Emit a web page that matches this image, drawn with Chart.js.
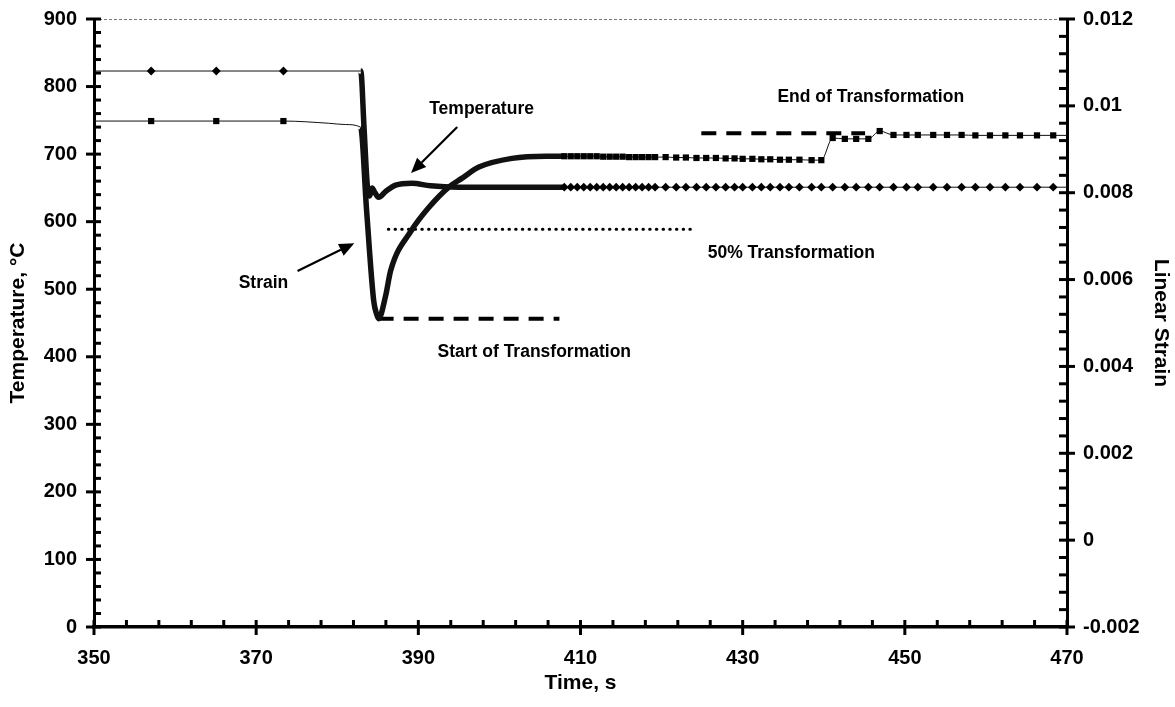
<!DOCTYPE html>
<html>
<head>
<meta charset="utf-8">
<title>Temperature and strain vs time</title>
<script src="https://cdn.jsdelivr.net/npm/chart.js@4.4.0/dist/chart.umd.min.js"></script>
<style>
  html, body { margin: 0; padding: 0; background: #fff; }
  #wrap { width: 1175px; height: 707px; }
</style>
</head>
<body>
<div id="wrap"><canvas id="chart" width="1175" height="707"></canvas></div>
<script>
// ---- data ----
const timeTicks = [350, 370, 390, 410, 430, 450, 470];
const tempTicks = [0, 100, 200, 300, 400, 500, 600, 700, 800, 900];
const strainTicks = [-0.002, 0, 0.002, 0.004, 0.006, 0.008, 0.01, 0.012];

// tail sampling shared by both recorded series (s)
const tailTime = [408.0, 408.8, 409.6, 410.4, 411.2, 412.0, 412.8, 413.6, 414.4, 415.2, 416.0, 416.8,
  417.6, 418.4, 419.2, 420.5, 421.8, 423.0, 424.3, 425.5, 426.7, 427.9, 429.0, 430.0, 431.2, 432.3,
  433.4, 434.6, 435.7, 437.0, 438.5, 439.7, 441.1, 442.6, 444.0, 445.5, 446.9, 448.6, 450.2, 451.6,
  453.5, 455.2, 457.0, 458.7, 460.5, 462.4, 464.2, 466.3, 468.3, 470];

const tempTime = [350, 357.05, 365.08, 373.36, 382.9, 383.3, 383.7, 384.0, 384.3, 384.6, 385.1,
  386.0, 387.2, 389.2, 391.5, 395, 400, 404].concat(tailTime);
const tempValues = [823, 823, 823, 823, 823, 740, 655, 638, 650, 644, 636,
  645, 654, 657, 653, 651, 651, 651,
  651, 651, 651, 651, 651, 651, 651, 651, 651, 651, 651, 651, 651, 651, 651,
  651, 651, 651, 651, 651, 651, 651, 651, 651, 651, 651, 651, 651, 651, 651,
  651, 651, 651, 651, 651, 651, 651, 651, 651, 651, 651, 651, 651, 651, 651,
  651, 651, 651, 651, 651];

const strainTime = [350, 357.05, 365.08, 373.36, 378.9, 381.0, 382.88, 383.62, 384.49, 384.86,
  385.10, 385.97, 386.59, 389.18, 391.29, 393.76, 395.36, 397.47, 401.55, 405.75].concat(tailTime);
const strainValues = [0.00965, 0.00965, 0.00965, 0.00965, 0.0096, 0.00957, 0.00951, 0.00759, 0.00552, 0.0052,
  0.0051, 0.00563, 0.00621, 0.00714, 0.00766, 0.00813, 0.00833, 0.00859, 0.00879, 0.00884,
  0.00884, 0.00884, 0.00884, 0.00884, 0.00884, 0.00884, 0.00883, 0.00883, 0.00883, 0.00883, 0.00882,
  0.00882, 0.00882, 0.00882, 0.00882, 0.00882, 0.00881, 0.00881, 0.0088, 0.0088, 0.0088, 0.00879,
  0.00879, 0.00878, 0.00878, 0.00877, 0.00877, 0.00876, 0.00876, 0.00876, 0.00875, 0.00875,
  0.00926, 0.00924, 0.00924, 0.00924, 0.00942, 0.00933, 0.00933, 0.00933, 0.00933, 0.00933,
  0.00933, 0.00932, 0.00932, 0.00932, 0.00932, 0.00932, 0.00932, 0.00932];

// transformation levels (strain) and the time span of each marker line
const startTime = [385.1, 407.4], startStrain = [0.0051, 0.0051];
const halfTime = [386.3, 423.7], halfStrain = [0.00716, 0.00716];
const endTime = [424.9, 445.1], endStrain = [0.00937, 0.00937];

// text notes, placed in data units (time, temperature)
const notes = [
  { text: 'Temperature', t: 397.8, v: 767 },
  { text: 'Strain', t: 370.9, v: 509 },
  { text: 'End of Transformation', t: 445.8, v: 784 },
  { text: '50% Transformation', t: 436.0, v: 554 },
  { text: 'Start of Transformation', t: 404.3, v: 407 }
];
const arrows = [
  { from: [394.8, 740], to: [389.1, 672] },
  { from: [375.1, 527], to: [382.1, 568] }
];

const FONT = '"Liberation Sans", Arial, sans-serif';

function pairs(xs, ys) {
  return xs.map((x, i) => ({ x, y: ys[i] }));
}

// markers only where the recording is sparse enough to show them
function markerRadius(ctx) {
  const x = ctx.raw && ctx.raw.x;
  if (x === undefined) return 0;
  if ((x > 350 && x < 375) || (x >= 407.9 && x < 469.9)) return 4.4;
  return 0;
}
function segWidth(ctx) {
  return ctx.p0.parsed.x >= 382.85 && ctx.p1.parsed.x <= 408.05 ? 5.5 : 1;
}

const axisTicks = {
  id: 'axisTicks',
  afterDraw(chart) {
    const { ctx, chartArea: a, scales } = chart;
    ctx.save();

    // faint frame line on top
    ctx.lineWidth = 1;
    ctx.setLineDash([3, 2]);
    ctx.strokeStyle = '#777';
    ctx.beginPath();
    ctx.moveTo(a.left, a.top + 0.5);
    ctx.lineTo(a.right, a.top + 0.5);
    ctx.stroke();
    ctx.setLineDash([]);
    ctx.strokeStyle = '#000';

    const drawSet = (ticks, scale, fn) => {
      for (let i = 0; i < ticks.length; i++) {
        fn(scale.getPixelForValue(ticks[i]), true);
        if (i < ticks.length - 1) {
          const step = (ticks[i + 1] - ticks[i]) / 5;
          for (let k = 1; k < 5; k++) fn(scale.getPixelForValue(ticks[i] + step * k), false);
        }
      }
    };

    drawSet(timeTicks, scales.x, (p, major) => {
      ctx.lineWidth = 3;
      ctx.beginPath();
      ctx.moveTo(p, a.bottom + (major ? 8 : 0));
      ctx.lineTo(p, a.bottom - 7);
      ctx.stroke();
    });
    drawSet(tempTicks, scales.y, (p, major) => {
      ctx.lineWidth = 3;
      ctx.beginPath();
      ctx.moveTo(a.left - (major ? 8 : 0), p);
      ctx.lineTo(a.left + 7, p);
      ctx.stroke();
    });
    drawSet(strainTicks, scales.y2, (p, major) => {
      ctx.lineWidth = 3;
      ctx.beginPath();
      ctx.moveTo(a.right + (major ? 8 : 0), p);
      ctx.lineTo(a.right - 8, p);
      ctx.stroke();
    });
    ctx.restore();
  }
};

const notesPlugin = {
  id: 'notes',
  afterDatasetsDraw(chart) {
    const { ctx, scales } = chart;
    const X = v => scales.x.getPixelForValue(v);
    const Y = v => scales.y.getPixelForValue(v);
    ctx.save();
    ctx.fillStyle = '#000';
    ctx.font = 'bold 17.5px ' + FONT;
    ctx.textAlign = 'center';
    ctx.textBaseline = 'middle';
    notes.forEach(n => ctx.fillText(n.text, X(n.t), Y(n.v)));

    ctx.strokeStyle = '#000';
    ctx.lineWidth = 2.2;
    arrows.forEach(ar => {
      const x0 = X(ar.from[0]), y0 = Y(ar.from[1]);
      const x1 = X(ar.to[0]), y1 = Y(ar.to[1]);
      const ang = Math.atan2(y1 - y0, x1 - x0);
      const len = 15, half = 6.5;
      const bx = x1 - Math.cos(ang) * len, by = y1 - Math.sin(ang) * len;
      ctx.beginPath();
      ctx.moveTo(x0, y0);
      ctx.lineTo(bx, by);
      ctx.stroke();
      ctx.beginPath();
      ctx.moveTo(x1, y1);
      ctx.lineTo(bx + Math.sin(ang) * half, by - Math.cos(ang) * half);
      ctx.lineTo(bx - Math.sin(ang) * half, by + Math.cos(ang) * half);
      ctx.closePath();
      ctx.fill();
    });
    ctx.restore();
  }
};

const tickFont = { family: FONT, size: 20, weight: 'bold' };
const titleFont = { family: FONT, size: 21, weight: 'bold' };

// fixed axis boxes so the plot area lands where the original one is
function fixVertical(width) {
  return s => {
    s.width = width;
    s.paddingTop = 0;
    s.paddingBottom = 0;
  };
}

new Chart(document.getElementById('chart'), {
  type: 'line',
  data: {
    datasets: [
      {
        label: 'Temperature',
        data: pairs(tempTime, tempValues),
        yAxisID: 'y',
        borderColor: '#111',
        borderWidth: 1,
        segment: { borderWidth: segWidth },
        cubicInterpolationMode: 'monotone',
        pointStyle: 'rectRot',
        pointRadius: markerRadius,
        pointBackgroundColor: '#000',
        pointBorderColor: '#000',
        pointBorderWidth: 0
      },
      {
        label: 'Strain',
        data: pairs(strainTime, strainValues),
        yAxisID: 'y2',
        borderColor: '#111',
        borderWidth: 1,
        segment: { borderWidth: segWidth },
        cubicInterpolationMode: 'monotone',
        pointStyle: 'rect',
        pointRadius: markerRadius,
        pointBackgroundColor: '#000',
        pointBorderColor: '#000',
        pointBorderWidth: 0
      },
      {
        label: 'Start of Transformation',
        data: pairs(startTime, startStrain),
        yAxisID: 'y2',
        borderColor: '#000',
        borderWidth: 4,
        borderDash: [15, 10],
        pointRadius: 0
      },
      {
        label: '50% Transformation',
        data: pairs(halfTime, halfStrain),
        yAxisID: 'y2',
        borderColor: '#000',
        borderWidth: 3,
        borderCapStyle: 'round',
        borderDash: [0.5, 6.2],
        pointRadius: 0
      },
      {
        label: 'End of Transformation',
        data: pairs(endTime, endStrain),
        yAxisID: 'y2',
        borderColor: '#000',
        borderWidth: 4,
        borderDash: [15, 10],
        pointRadius: 0
      }
    ]
  },
  options: {
    responsive: false,
    animation: false,
    events: [],
    layout: { padding: { top: 19, left: 0, right: 0, bottom: 0 } },
    plugins: { legend: { display: false }, tooltip: { enabled: false } },
    scales: {
      x: {
        type: 'linear',
        min: 350,
        max: 470,
        afterBuildTicks: s => { s.ticks = timeTicks.map(v => ({ value: v })); },
        afterFit: s => { s.height = 80; s.paddingLeft = 0; s.paddingRight = 0; },
        grid: { display: false, drawTicks: false },
        border: { display: true, color: '#000', width: 3.5 },
        ticks: { color: '#000', font: tickFont, padding: 19, maxRotation: 0, autoSkip: false },
        title: { display: true, text: 'Time, s', color: '#000', font: titleFont, padding: { top: 0, bottom: 11 } }
      },
      y: {
        position: 'left',
        min: 0,
        max: 900,
        afterBuildTicks: s => { s.ticks = tempTicks.map(v => ({ value: v })); },
        afterFit: fixVertical(94),
        grid: { display: false, drawTicks: false },
        border: { display: true, color: '#000', width: 3 },
        ticks: { color: '#000', font: tickFont, padding: 17, autoSkip: false },
        title: { display: true, text: 'Temperature, °C', color: '#000', font: titleFont, padding: { top: 6, bottom: 0 } }
      },
      y2: {
        position: 'right',
        min: -0.002,
        max: 0.012,
        afterBuildTicks: s => { s.ticks = strainTicks.map(v => ({ value: v })); },
        afterFit: fixVertical(108),
        grid: { display: false, drawTicks: false },
        border: { display: true, color: '#000', width: 3 },
        ticks: {
          color: '#000', font: tickFont, padding: 16, autoSkip: false,
          callback: v => String(+Number(v).toFixed(3))
        },
        title: { display: true, text: 'Linear Strain', color: '#000', font: titleFont, padding: { top: 2, bottom: 0 } }
      }
    }
  },
  plugins: [axisTicks, notesPlugin]
});
</script>
</body>
</html>
